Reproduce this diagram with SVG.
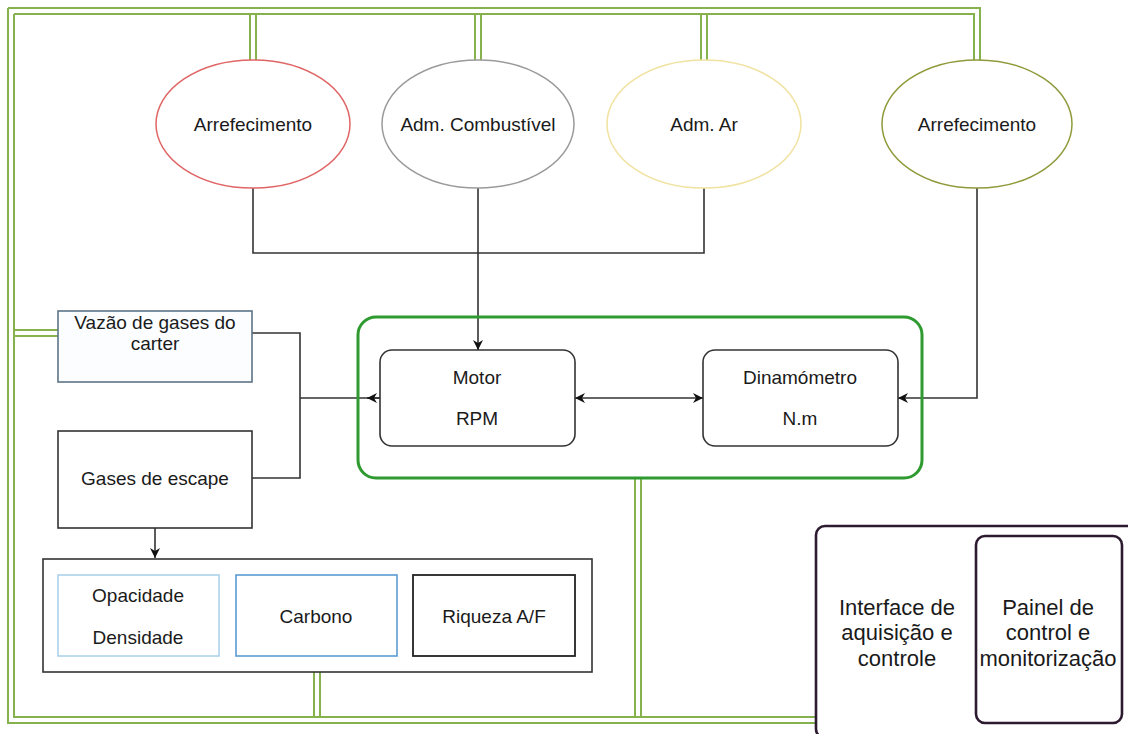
<svg xmlns="http://www.w3.org/2000/svg" width="1128" height="734" viewBox="0 0 1128 734">
<defs>
<marker id="arr" viewBox="0 0 10 10" refX="10" refY="5" markerWidth="10" markerHeight="10" markerUnits="userSpaceOnUse" orient="auto">
<path d="M0,0 L10,5 L0,10 L3,5 z" fill="#111"/>
</marker>
<marker id="arrS" viewBox="0 0 10 10" refX="0" refY="5" markerWidth="10" markerHeight="10" markerUnits="userSpaceOnUse" orient="auto">
<path d="M10,0 L0,5 L10,10 L7,5 z" fill="#111"/>
</marker>
</defs>
<style>
text{font-family:"Liberation Sans",Arial,sans-serif;fill:#1a1a1a;text-anchor:middle}
.t18{font-size:19px}
.t22{font-size:22px}
.bus{fill:none;stroke:#86b24e;stroke-width:2}
.con{fill:none;stroke:#333;stroke-width:1.6}
.ell{fill:#fff;stroke-width:1.5}
.box{fill:#fff;stroke:#333;stroke-width:1.6}
</style>
<rect width="1128" height="734" fill="#fff"/>

<g id="bus">
<path class="bus" d="M8,8 H980 V60 M14,14 H974 V60 M8,8 V723 H816 M14,14 V717 H816"/>
<path class="bus" d="M250,14 V60 M256,14 V60 M475,14 V60 M481,14 V60 M701,14 V60 M707,14 V60"/>
<path class="bus" d="M14,330 H58 M14,336 H58 M314,672 V717 M320,672 V717 M635,478 V717 M641,478 V717"/>
</g>

<g id="connectors">
<path class="con" d="M253,188 V253 H704 V188"/>
<path class="con" d="M478,188 V350" marker-end="url(#arr)"/>
<path class="con" d="M977,188 V398 H898" marker-end="url(#arr)"/>
<path class="con" d="M252,333 H300 V478 H252 M300,398 H380"/>
<path class="con" d="M380,398 H367" marker-end="url(#arr)"/>
<path class="con" d="M575,398 H703" marker-start="url(#arrS)" marker-end="url(#arr)"/>
<path class="con" d="M155,528 V558" marker-end="url(#arr)"/>
</g>

<g id="container">
<rect x="358" y="317" width="564" height="161" rx="18" fill="none" stroke="#2f9a2f" stroke-width="3"/>
</g>

<g id="e-arref1">
<ellipse class="ell" cx="253" cy="124" rx="97" ry="64" stroke="#e06565"/>
<text class="t18" x="253" y="131">Arrefecimento</text>
</g>
<g id="e-comb">
<ellipse class="ell" cx="478" cy="124" rx="96" ry="64" stroke="#9a9a9a"/>
<text class="t18" x="478" y="131">Adm. Combustível</text>
</g>
<g id="e-ar">
<ellipse class="ell" cx="704" cy="124" rx="97" ry="64" stroke="#f0e2a0"/>
<text class="t18" x="704" y="131">Adm. Ar</text>
</g>
<g id="e-arref2">
<ellipse class="ell" cx="977" cy="124" rx="95" ry="64" stroke="#8f9a3a"/>
<text class="t18" x="977" y="131">Arrefecimento</text>
</g>

<g id="motor">
<rect class="box" x="380" y="350" width="195" height="96" rx="12"/>
<text class="t18" x="477" y="384">Motor</text>
<text class="t18" x="477" y="425">RPM</text>
</g>
<g id="dinamometro">
<rect class="box" x="703" y="350" width="195" height="96" rx="12"/>
<text class="t18" x="800" y="384">Dinamómetro</text>
<text class="t18" x="800" y="425">N.m</text>
</g>

<g id="vazao">
<rect x="58" y="311" width="194" height="71" fill="#fbfdff" stroke="#5d7488" stroke-width="1.6"/>
<text class="t18" x="155" y="329">Vazão de gases do</text>
<text class="t18" x="155" y="350">carter</text>
</g>
<g id="gases">
<rect class="box" x="58" y="431" width="194" height="97"/>
<text class="t18" x="155" y="485">Gases de escape</text>
</g>

<g id="analisadores">
<rect class="box" x="43" y="559" width="549" height="113"/>
</g>
<g id="opacidade">
<rect x="58" y="575" width="161" height="81" fill="#fff" stroke="#a8d0ea" stroke-width="1.5"/>
<text class="t18" x="138" y="602">Opacidade</text>
<text class="t18" x="138" y="644">Densidade</text>
</g>
<g id="carbono">
<rect x="236" y="575" width="161" height="81" fill="#fff" stroke="#5a9bd4" stroke-width="1.6"/>
<text class="t18" x="316" y="623">Carbono</text>
</g>
<g id="riqueza">
<rect x="413" y="575" width="162" height="81" fill="#fff" stroke="#222" stroke-width="1.8"/>
<text class="t18" x="494" y="623">Riqueza A/F</text>
</g>

<g id="interface">
<rect x="816" y="526" width="330" height="212" rx="9" fill="none" stroke="#2d1a30" stroke-width="2.6"/>
<text class="t22" x="897" y="615">Interface de</text>
<text class="t22" x="897" y="640">aquisição e</text>
<text class="t22" x="897" y="666">controle</text>
</g>
<g id="painel">
<rect x="976" y="536" width="146" height="187" rx="9" fill="none" stroke="#2d1a30" stroke-width="2.6"/>
<text class="t22" x="1048" y="615">Painel de</text>
<text class="t22" x="1048" y="640">control e</text>
<text class="t22" x="1048" y="666">monitorização</text>
</g>
</svg>
